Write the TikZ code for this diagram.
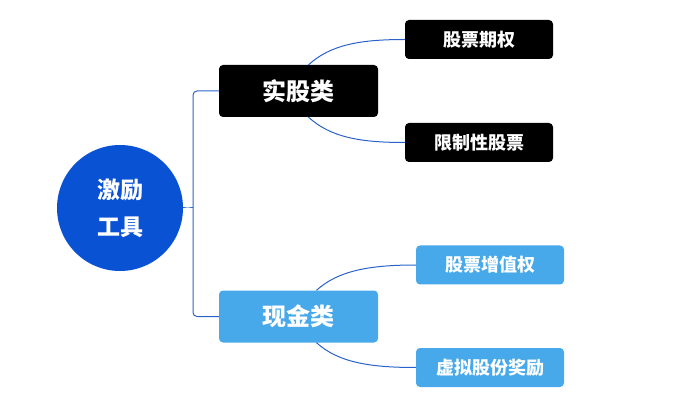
\documentclass[tikz,border=0pt]{standalone}
\usepackage{fontspec}
\usepackage{xcolor}
\newfontfamily\cjk{Noto Sans CJK SC}
\definecolor{rootblue}{HTML}{0A52D4}
\definecolor{cashblue}{HTML}{47A9EA}
\definecolor{linkblue}{HTML}{2A62C9}

\begin{document}
\begin{tikzpicture}[x=1pt,y=-1pt,
  bigbox/.style={rectangle,rounded corners=4,text=white,minimum width=159,minimum height=52,font=\cjk\bfseries\fontsize{24}{27}\selectfont},
  smallbox/.style={rectangle,rounded corners=4,text=white,minimum width=148,minimum height=39,font=\cjk\bfseries\fontsize{18}{21}\selectfont},
  link/.style={draw=linkblue,line width=1}]
\useasboundingbox (0,0) rectangle (689,409);
\node[circle,fill=rootblue,minimum size=126,text=white,align=center,font=\cjk\bfseries\fontsize{23}{37}\selectfont] (root) at (120,208) {激励\\工具};
\node[bigbox,fill=black] (shigu) at (298.5,91) {实股类};
\node[bigbox,fill=cashblue] (xianjin) at (298.5,316.5) {现金类};
\node[smallbox,fill=black] (qiquan) at (479,39.5) {股票期权};
\node[smallbox,fill=black] (xianzhi) at (479,142.5) {限制性股票};
\node[smallbox,fill=cashblue] (zengzhi) at (490,265) {股票增值权};
\node[smallbox,fill=cashblue] (xuni) at (490,367.5) {虚拟股份奖励};
\coordinate (spine) at (193,208);
% bracket from the root
\draw[link,rounded corners=4] (shigu.west) -- (spine |- shigu.west) -- (spine |- xianjin.west) -- (xianjin.west);
\draw[link] (root.east) .. controls +(5,0) and +(-3,0) .. (spine);
% branches
\draw[link] ([xshift=10]shigu.north) .. controls +(22,-20) and +(-45,0) .. (qiquan.west);
\draw[link] ([xshift=10]shigu.south) .. controls +(22,20) and +(-45,0) .. (xianzhi.west);
\draw[link] ([xshift=18]xianjin.north) .. controls +(22,-20) and +(-45,0) .. (zengzhi.west);
\draw[link] ([xshift=18]xianjin.south) .. controls +(22,20) and +(-45,0) .. (xuni.west);
\end{tikzpicture}
\end{document}
